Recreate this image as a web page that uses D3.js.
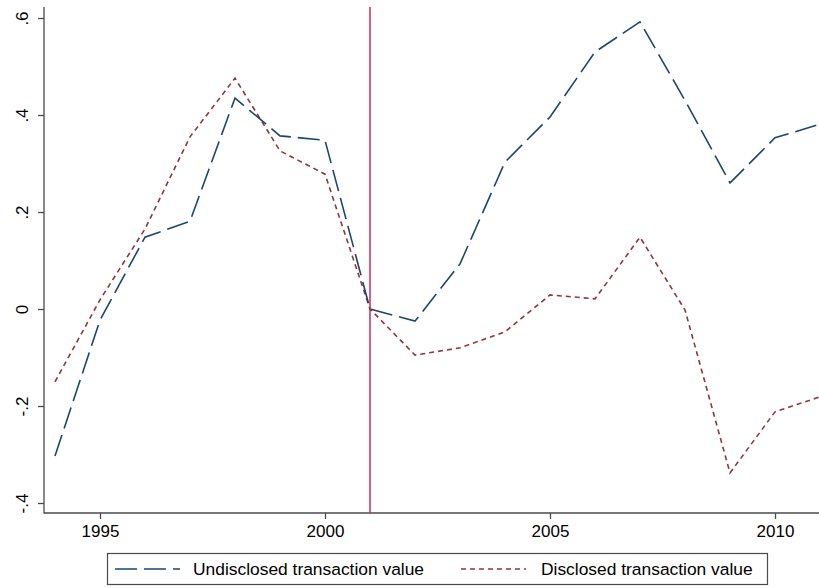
<!DOCTYPE html>
<html>
<head>
<meta charset="utf-8">
<script src="https://cdn.jsdelivr.net/npm/d3@7"></script>
<style>
  html, body { margin: 0; padding: 0; background: #fff; }
  svg { display: block; font-family: "Liberation Sans", Arial, sans-serif; }
</style>
</head>
<body>
<svg id="chart" width="819" height="588"></svg>
<script>
// Years on the horizontal axis
const years = [1994, 1995, 1996, 1997, 1998, 1999, 2000, 2001, 2002, 2003,
               2004, 2005, 2006, 2007, 2008, 2009, 2010, 2011];

// Series values by year
const undisclosed = [-0.303, -0.023, 0.148, 0.181, 0.435, 0.357, 0.348, 0.0, -0.025, 0.093,
                     0.303, 0.396, 0.530, 0.592, 0.430, 0.260, 0.353, 0.381];
const disclosed = [-0.150, 0.019, 0.165, 0.355, 0.476, 0.326, 0.278, 0.0, -0.095, -0.080,
                   -0.047, 0.029, 0.021, 0.148, -0.002, -0.338, -0.212, -0.181];

// Tick positions and labels
const xTicks = [1995, 2000, 2005, 2010];
const yTicks = [-0.4, -0.2, 0, 0.2, 0.4, 0.6];
const yTickLabels = ["-.4", "-.2", "0", ".2", ".4", ".6"];

// Reference year marked with a vertical line
const markerYear = [2001];

const seriesNames = ["Undisclosed transaction value", "Disclosed transaction value"];

const W = 819, H = 588;
const svg = d3.select("#chart");

const plotLeft = 44, plotTop = 7, plotBottom = 513;

const x = d3.scaleLinear().domain([1994, 2011]).range([55, 820]);
const y = d3.scaleLinear().domain([-0.4206, 0.6227]).range([plotBottom, plotTop]);

const axisColor = "#4a4a4a";
const blue = "#1a476f";
const red = "#90353b";
const markerColor = "#cf2a55";
const tickFont = "17px";
const legendFont = "17.4px";

// Axis lines
svg.append("line")
  .attr("x1", plotLeft).attr("x2", plotLeft)
  .attr("y1", plotTop).attr("y2", plotBottom + 0.5)
  .attr("stroke", axisColor).attr("stroke-width", 1.3);
svg.append("line")
  .attr("x1", plotLeft).attr("x2", W)
  .attr("y1", plotBottom).attr("y2", plotBottom)
  .attr("stroke", axisColor).attr("stroke-width", 1.3);

// Y axis
const yAxis = svg.append("g")
  .attr("transform", `translate(${plotLeft},0)`)
  .call(d3.axisLeft(y).tickValues(yTicks)
    .tickFormat((d, i) => yTickLabels[i]).tickSize(6).tickSizeOuter(0));
yAxis.select(".domain").remove();
yAxis.selectAll(".tick line").attr("stroke", axisColor).attr("stroke-width", 1.3);
yAxis.selectAll(".tick text")
  .attr("transform", "rotate(-90)")
  .attr("x", 0).attr("y", -16).attr("dy", 0)
  .attr("text-anchor", "middle")
  .attr("fill", "#000")
  .style("font-size", tickFont)
  .style("font-family", "'Liberation Sans', Arial, sans-serif");

// X axis
const xAxis = svg.append("g")
  .attr("transform", `translate(0,${plotBottom})`)
  .call(d3.axisBottom(x).tickValues(xTicks).tickFormat(d3.format("d"))
    .tickSize(6).tickSizeOuter(0));
xAxis.select(".domain").remove();
xAxis.selectAll(".tick line").attr("stroke", axisColor).attr("stroke-width", 1.3);
xAxis.selectAll(".tick text")
  .attr("y", 24).attr("dy", 0)
  .attr("fill", "#000")
  .style("font-size", tickFont)
  .style("font-family", "'Liberation Sans', Arial, sans-serif");

// Vertical marker line
svg.selectAll(".marker").data(markerYear).enter().append("line")
  .attr("class", "marker")
  .attr("x1", d => x(d)).attr("x2", d => x(d))
  .attr("y1", plotTop).attr("y2", plotBottom)
  .attr("stroke", markerColor).attr("stroke-width", 1.5);

// Series lines
const line = d3.line().x((d, i) => x(years[i])).y(d => y(d));

svg.append("path").datum(disclosed)
  .attr("d", line)
  .attr("fill", "none").attr("stroke", red)
  .attr("stroke-width", 1.6).attr("stroke-dasharray", "5,4");

svg.append("path").datum(undisclosed)
  .attr("d", line)
  .attr("fill", "none").attr("stroke", blue)
  .attr("stroke-width", 1.6).attr("stroke-dasharray", "22,7");

// Legend
const lg = svg.append("g");
lg.append("rect")
  .attr("x", 107.5).attr("y", 553.5).attr("width", 660).attr("height", 31)
  .attr("fill", "#fff").attr("stroke", axisColor).attr("stroke-width", 1.2);

const legendItems = [
  { name: seriesNames[0], color: blue, dash: "22,7", x0: 115, tx: 193 },
  { name: seriesNames[1], color: red, dash: "5,4", x0: 461, tx: 541 }
];
legendItems.forEach(it => {
  lg.append("line")
    .attr("x1", it.x0).attr("x2", it.x0 + 65)
    .attr("y1", 569).attr("y2", 569)
    .attr("stroke", it.color).attr("stroke-width", 1.6)
    .attr("stroke-dasharray", it.dash);
  lg.append("text")
    .attr("x", it.tx).attr("y", 575)
    .attr("fill", "#000")
    .style("font-size", legendFont)
    .text(it.name);
});
</script>
</body>
</html>
